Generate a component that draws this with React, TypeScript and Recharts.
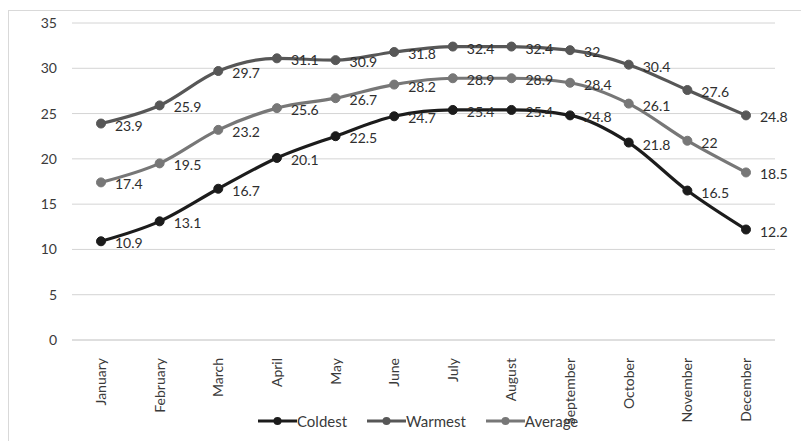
import {
  LineChart,
  Line,
  XAxis,
  YAxis,
  CartesianGrid,
  Legend,
  LabelList,
} from "recharts";

const months = [
  "January",
  "February",
  "March",
  "April",
  "May",
  "June",
  "July",
  "August",
  "September",
  "October",
  "November",
  "December",
];
const coldest = [10.9, 13.1, 16.7, 20.1, 22.5, 24.7, 25.4, 25.4, 24.8, 21.8, 16.5, 12.2];
const warmest = [23.9, 25.9, 29.7, 31.1, 30.9, 31.8, 32.4, 32.4, 32, 30.4, 27.6, 24.8];
const average = [17.4, 19.5, 23.2, 25.6, 26.7, 28.2, 28.9, 28.9, 28.4, 26.1, 22, 18.5];
const yTicks = [0, 5, 10, 15, 20, 25, 30, 35];

const series = [
  { key: "Coldest", color: "#1c1c1c" },
  { key: "Warmest", color: "#575757" },
  { key: "Average", color: "#777777" },
];

const data = months.map((m, i) => ({
  month: m,
  Coldest: coldest[i],
  Warmest: warmest[i],
  Average: average[i],
}));

const FONT = "Lato, 'Open Sans', sans-serif";

const MonthTick = (props: any) => {
  const { x, y, payload } = props;
  return (
    <text
      transform={`translate(${x + 5},${y + 10}) rotate(-90)`}
      textAnchor="end"
      fontSize={14}
      fontFamily={FONT}
      fill="#3a3a3a"
    >
      {payload.value}
    </text>
  );
};

// Excel-style "right" data label: just right of the marker, a touch low
const PointLabel = (props: any) => {
  const { x, y, value } = props;
  return (
    <text x={x + 14} y={y + 7} fontSize={14} fontFamily={FONT} fill="#2e2e2e">
      {value}
    </text>
  );
};

const LegendContent = () => (
  <div style={{ display: "flex", alignItems: "center", fontFamily: FONT, fontSize: 15, color: "#3a3a3a" }}>
    {series.map((s) => (
      <div key={s.key} style={{ display: "flex", alignItems: "center", marginRight: 20 }}>
        <svg width={39} height={12}>
          <line x1={0} y1={6} x2={39} y2={6} stroke={s.color} strokeWidth={3} />
          <circle cx={19.5} cy={6} r={4} fill={s.color} />
        </svg>
        <span>{s.key}</span>
      </div>
    ))}
  </div>
);

export default function App() {
  return (
    <div
      style={{
        width: 800,
        height: 430,
        marginTop: 2,
        border: "1px solid #d9d9d9",
        position: "relative",
        background: "#fff",
      }}
    >
      <LineChart
        width={800}
        height={430}
        data={data}
        margin={{ top: 12, right: 34, left: 0, bottom: 0 }}
      >
        <CartesianGrid vertical={false} stroke="#d4d4d4" />
        <XAxis
          dataKey="month"
          height={101}
          interval={0}
          padding={{ left: 29, right: 29 }}
          axisLine={{ stroke: "#d4d4d4" }}
          tickLine={false}
          tick={<MonthTick />}
        />
        <YAxis
          width={63}
          domain={[0, 35]}
          ticks={yTicks}
          axisLine={false}
          tickLine={false}
          tickSize={0}
          tickMargin={15}
          tick={{ fontSize: 14, fontFamily: FONT, fill: "#3a3a3a" }}
        />
        <Legend
          verticalAlign="middle"
          align="center"
          content={<LegendContent />}
          wrapperStyle={{ top: 401, left: 249, width: 380 }}
        />
        {series.map((s) => (
          <Line
            key={s.key}
            dataKey={s.key}
            type="monotone"
            stroke={s.color}
            strokeWidth={3.2}
            dot={{ r: 4.5, fill: s.color, stroke: s.color, strokeWidth: 1 }}
            activeDot={false}
            isAnimationActive={false}
          >
            <LabelList dataKey={s.key} content={<PointLabel />} />
          </Line>
        ))}
      </LineChart>
    </div>
  );
}
